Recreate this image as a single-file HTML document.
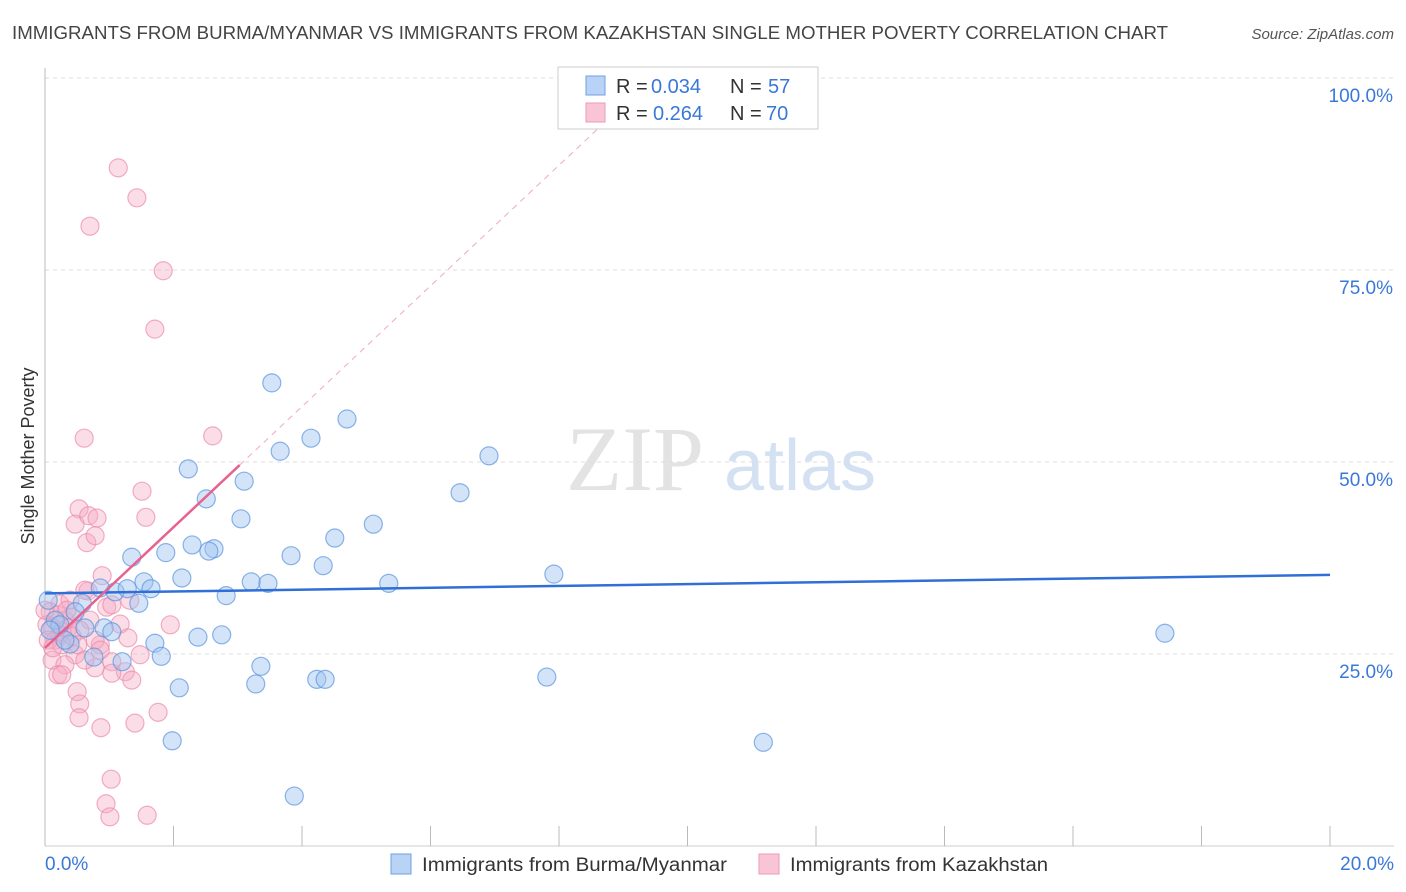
<!DOCTYPE html>
<html><head><meta charset="utf-8"><style>
body{margin:0;background:#fff;font-family:"Liberation Sans",sans-serif;}
svg{display:block}
</style></head><body>
<svg id="c" width="1406" height="892">
<text x="12" y="39" font-size="18" fill="#444" textLength="1156" lengthAdjust="spacingAndGlyphs">IMMIGRANTS FROM BURMA/MYANMAR VS IMMIGRANTS FROM KAZAKHSTAN SINGLE MOTHER POVERTY CORRELATION CHART</text>
<text x="1394" y="39" font-size="15" fill="#555" text-anchor="end" font-style="italic">Source: ZipAtlas.com</text>
<text x="34" y="456" font-size="18" fill="#333" text-anchor="middle" transform="rotate(-90 34 456)">Single Mother Poverty</text>
<g><text x="635" y="490" font-size="92" fill="#ddd" text-anchor="middle" font-family="Liberation Serif,serif" opacity="0.8">ZIP</text><text x="800" y="490" font-size="72" fill="#c9daf0" text-anchor="middle" opacity="0.8">atlas</text></g>
<g id="grid"></g><g id="marks"></g>
<g>
<rect x="558" y="67" width="260" height="62" fill="#fff" stroke="#ccc"/>
<rect x="586" y="76" width="19" height="19" fill="#b9d3f6" stroke="#6f9fe0"/>
<rect x="586" y="103" width="19" height="19" fill="#f9c5d6" stroke="#ee9ab5"/>
<text x="616" y="93" font-size="20" fill="#333">R =</text><text x="651" y="93" font-size="20" fill="#3a78d8">0.034</text>
<text x="730" y="93" font-size="20" fill="#333">N =</text><text x="768" y="93" font-size="20" fill="#3a78d8">57</text>
<text x="616" y="120" font-size="20" fill="#333">R =</text><text x="653" y="120" font-size="20" fill="#3a78d8">0.264</text>
<text x="730" y="120" font-size="20" fill="#333">N =</text><text x="766" y="120" font-size="20" fill="#3a78d8">70</text>
</g>
<g>
<rect x="391" y="854" width="20" height="20" fill="#b9d3f6" stroke="#6f9fe0"/>
<text x="422" y="871" font-size="19" fill="#333" textLength="305" lengthAdjust="spacingAndGlyphs">Immigrants from Burma/Myanmar</text>
<rect x="759" y="854" width="20" height="20" fill="#f9c5d6" stroke="#ee9ab5"/>
<text x="790" y="871" font-size="19" fill="#333" textLength="258" lengthAdjust="spacingAndGlyphs">Immigrants from Kazakhstan</text>
</g>
</svg>
<script>
const yTicks=[25,50,75,100];
const yTickLabels=["25.0%","50.0%","75.0%","100.0%"];
const xTicks=[0,2,4,6,8,10,12,14,16,18,20];
const blueX=[3.53,4.70,4.14,3.66,6.91,2.23,3.10,2.51,6.46,3.05,5.11,4.51,1.35,1.88,2.29,2.63,2.55,3.83,4.33,7.92,2.13,1.54,3.21,3.47,5.35,1.09,1.28,1.65,0.86,2.82,1.46,0.58,0.47,0.16,0.23,0.62,0.92,0.08,1.04,2.38,2.75,1.71,0.39,1.81,0.76,1.20,3.36,2.09,3.28,4.23,4.36,7.81,1.98,3.88,11.18,17.43,0.05,0.31];
const blueY=[60.3,55.6,53.1,51.4,50.8,49.1,47.5,45.2,46.0,42.6,41.9,40.1,37.6,38.2,39.2,38.7,38.4,37.8,36.5,35.4,34.9,34.4,34.4,34.2,34.2,33.1,33.5,33.5,33.6,32.6,31.6,31.6,30.5,29.4,28.8,28.4,28.4,28.1,27.9,27.2,27.5,26.4,26.3,24.7,24.6,24.0,23.4,20.6,21.1,21.7,21.7,22.0,13.7,6.5,13.5,27.7,32.0,26.8];
const pinkX=[1.14,1.43,0.70,1.84,1.71,0.61,2.61,1.51,0.53,0.47,1.57,0.68,0.81,0.65,0.78,0.89,0.67,0.23,0.96,0.08,1.95,0.31,0.42,0.70,1.17,1.29,0.86,0.16,0.26,0.03,0.11,0.36,0.23,0.54,0.47,0.11,0.31,0.78,1.04,1.25,1.04,1.35,0.20,0.26,0.50,0.54,0.53,1.76,0.87,1.40,1.03,0.95,1.01,1.59,0.05,0.39,0.20,0.62,0.0,0.78,1.04,0.86,0.26,0.42,0.12,0.34,1.32,0.51,0.62,1.48];
const pinkY=[88.3,84.4,80.7,74.9,67.3,53.1,53.4,46.2,43.9,41.9,42.8,43.0,42.7,39.5,40.4,35.2,33.2,31.5,31.1,30.5,28.8,29.4,29.8,29.4,28.9,27.1,26.2,26.8,27.9,28.8,28.4,28.4,27.5,28.1,24.9,24.2,23.6,23.2,24.0,22.7,22.5,21.6,22.3,22.3,20.1,18.5,16.7,17.4,15.4,16.0,8.7,5.5,3.8,4.0,26.8,32.0,30.1,24.2,30.7,26.8,31.4,25.5,26.2,27.3,25.8,30.7,32.0,26.2,33.3,24.9];
const blueTrend=[32.9,35.3];
const pinkTrend=[25.8,49.6];
const pinkSolidEnd=3.03;
const NS='http://www.w3.org/2000/svg';
const X=v=>45+v*64.25, Y=v=>846-v*7.68;
function mk(t,a,p){const e=document.createElementNS(NS,t);for(const k in a)e.setAttribute(k,a[k]);p.appendChild(e);return e;}
const g=document.getElementById('grid'),m=document.getElementById('marks');
yTicks.forEach((t,i)=>{
 const l=mk('line',{x1:45,x2:1394,y1:Y(t),y2:Y(t),stroke:'#ddd','stroke-dasharray':'4,4'},g);
 
 
 const tx=mk('text',{x:1393,y:Y(t)+24,'font-size':19,fill:'#3a78d8','text-anchor':'end'},g);
 tx.textContent=yTickLabels[i];
 
 
});
const ax=mk('line',{x1:45,x2:45,y1:68,y2:846,stroke:'#bbb'},g);


const bx=mk('line',{x1:45,x2:1394,y1:846,y2:846,stroke:'#ccc'},g);


xTicks.forEach(t=>{
 const l=mk('line',{x1:X(t),x2:X(t),y1:826,y2:846,stroke:'#bbb'},g);
 
 
});
const x0=mk('text',{x:45,y:870,'font-size':19,fill:'#3a78d8'},g);x0.textContent='0.0%';


const x1=mk('text',{x:1394,y:870,'font-size':19,fill:'#3a78d8','text-anchor':'end'},g);x1.textContent='20.0%';


pinkX.forEach((v,i)=>{
 const c=mk('circle',{cx:X(v),cy:Y(pinkY[i]),r:9,fill:'rgba(246,170,196,0.4)',stroke:'rgba(236,140,172,0.7)','stroke-width':1.2},m);
 
 
});
blueX.forEach((v,i)=>{
 const c=mk('circle',{cx:X(v),cy:Y(blueY[i]),r:9,fill:'rgba(160,196,240,0.45)',stroke:'rgba(90,148,222,0.7)','stroke-width':1.2},m);
 
 
});
const bl=mk('line',{x1:X(0),y1:Y(blueTrend[0]),x2:X(20),y2:Y(blueTrend[1]),stroke:'#2f6fd6','stroke-width':2.5},m);


const ps=(pinkTrend[1]-pinkTrend[0])/pinkSolidEnd;
const xEnd=(100-pinkTrend[0])/ps;
const pd=mk('line',{x1:X(pinkSolidEnd),y1:Y(pinkTrend[1]),x2:X(xEnd),y2:Y(100),stroke:'#f0a8c0','stroke-width':1,'stroke-dasharray':'6,5'},m);


const pl=mk('line',{x1:X(0),y1:Y(pinkTrend[0]),x2:X(pinkSolidEnd),y2:Y(pinkTrend[1]),stroke:'#e8628f','stroke-width':2.5},m);


</script>
</body></html>
